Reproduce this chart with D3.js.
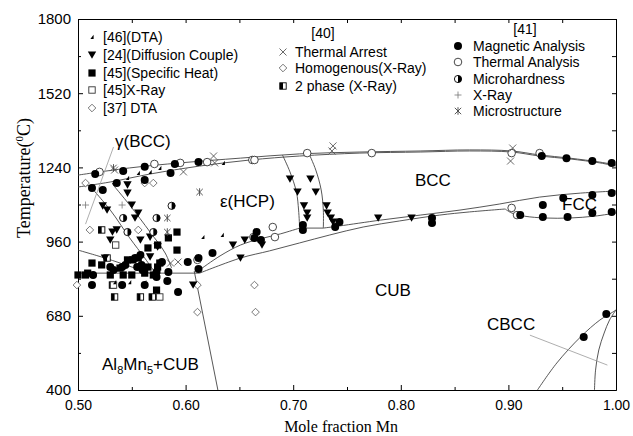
<!DOCTYPE html>
<html lang='en'>
<head>
<meta charset='UTF-8'>
<title>Al-Mn phase diagram</title>
<script src='https://d3js.org/d3.v7.min.js'></script>
<style>
  body { margin: 0; background: #fff; }
  svg text { font-family: 'Liberation Sans', Arial, sans-serif; fill: #000; }
  .serif { font-family: 'Liberation Serif', 'Times New Roman', serif !important; }
</style>
</head>
<body>
<svg id='chart' width='633' height='436'></svg>
<script>
// axis ticks
const xMajor = [0.50, 0.60, 0.70, 0.80, 0.90, 1.00]
const xMinor = [0.55, 0.65, 0.75, 0.85, 0.95]
const yMajor = [400, 680, 960, 1240, 1520, 1800]
const yMinor = [540, 820, 1100, 1380, 1660]

// measured points [mole fraction Mn, T in C]
const dta46 = [[0.533,1185],[0.546,1200],[0.556,1219],[0.567,1223],[0.576,1238],[0.592,1249],[0.635,1257],
  [0.616,977],[0.634,985],[0.534,807],[0.548,807],[0.562,807]]
const diffusion24 = [[0.546,1174],[0.546,1143],[0.523,1095],[0.527,1079],[0.550,1098],[0.556,1068],[0.553,1049],
  [0.532,996],[0.530,966],[0.536,1004],[0.558,966],[0.567,977],[0.574,940],[0.567,902],[0.525,898],
  [0.644,947],[0.655,966],[0.607,796],[0.671,947],[0.651,898],
  [0.697,1196],[0.704,1147],[0.710,1095],[0.713,1068],[0.713,1049],
  [0.716,1196],[0.721,1147],[0.731,1095],[0.732,1068],[0.735,1049],[0.737,1034],
  [0.779,1049],[0.810,1049]]
const specHeat45 = [[0.592,996],[0.584,974],[0.565,936],[0.592,928],[0.556,898],[0.546,891],[0.513,879],[0.522,872],
  [0.539,860],[0.565,864],[0.574,864],[0.576,879],[0.500,834],[0.507,834],[0.509,841],[0.530,834],[0.542,834],
  [0.550,834],[0.562,841],[0.570,834],[0.573,777],[0.574,947],[0.551,891]]
const xray45 = [[0.535,947],[0.533,796],[0.576,751]]
const dta37 = [[0.507,1181],[0.499,796],[0.511,1004]]
const arrest40 = [[0.534,1230],[0.598,1223],[0.626,1283],[0.627,1257],[0.737,1321],[0.736,1302],
  [0.904,1313],[0.902,1264],[0.586,879],[0.593,883]]
const homog40 = [[0.562,1181],[0.570,1181],[0.556,1004],[0.664,796],[0.665,694],[0.611,694],[0.611,796]]
const twoPhase40 = [[0.522,1004],[0.527,898],[0.532,796],[0.534,751],[0.558,751],[0.569,751]]
const magnetic41 = [[0.516,1215],[0.542,1226],[0.562,1242],[0.590,1253],[0.612,1260],[0.513,1162],[0.523,1155],
  [0.536,1181],[0.562,1192],[0.586,1219],[0.666,996],[0.625,917],[0.612,898],[0.602,883],[0.558,909],[0.553,898],
  [0.578,883],[0.560,853],[0.555,864],[0.544,872],[0.533,853],[0.530,864],[0.541,864],[0.559,872],[0.514,834],
  [0.573,845],[0.584,845],[0.573,826],[0.583,811],[0.513,796],[0.541,796],[0.562,796],[0.593,770],[0.612,857],
  [0.709,1023],[0.709,1004],[0.739,1015],[0.743,1034],[0.664,974],[0.670,966],[0.829,1049],[0.829,1030],
  [0.931,1283],[0.954,1275],[0.978,1264],[0.996,1257],
  [0.911,1060],[0.932,1053],[0.955,1053],[0.978,1068],[0.996,1072],
  [0.932,1098],[0.951,1125],[0.978,1136],[0.996,1143],[0.970,600],[0.991,687]]
const thermal41 = [[0.520,1223],[0.571,1253],[0.595,1257],[0.620,1260],[0.662,1268],[0.664,1268],[0.713,1294],
  [0.773,1294],[0.903,1294],[0.929,1294],[0.611,891],[0.663,977],[0.681,1015],[0.683,977],[0.903,1087],[0.908,1060]]
const hardness41 = [[0.587,1095],[0.542,1049],[0.573,1049],[0.546,996],[0.570,996]]
const xray41 = [[0.507,1098],[0.541,1098]]
const micro41 = [[0.533,1238],[0.613,1147],[0.583,1049],[0.583,996]]

// phase boundaries
const liquidus = [[0.500,1211],[0.548,1238],[0.595,1257],[0.651,1275],[0.706,1291],[0.762,1298],[0.818,1302],
  [0.864,1306],[0.903,1302],[0.929,1287],[0.957,1275],[0.985,1260],[1.000,1249]]
const solidus = [[0.500,1166],[0.530,1185],[0.567,1215],[0.613,1245],[0.660,1268],[0.706,1283],[0.762,1294],
  [0.818,1298],[0.864,1302],[0.903,1298],[0.929,1283],[0.957,1272],[0.985,1257],[1.000,1245]]
const gammaEps1 = [[0.511,1170],[0.530,1079],[0.548,974],[0.562,898],[0.572,841]]
const gammaEps2 = [[0.532,1177],[0.548,1098],[0.567,996],[0.581,917],[0.587,860]]
const leftLine = [[0.500,928],[0.525,898],[0.553,860],[0.567,841]]
const eutectoid = [[0.500,841],[0.613,841]]
const epsLower = [[0.613,853],[0.632,906],[0.651,947],[0.669,970],[0.688,989],[0.706,1011]]
const epsBccA = [[0.690,1287],[0.697,1223],[0.703,1147],[0.705,1079],[0.706,1011]]
const epsBccB = [[0.714,1298],[0.721,1230],[0.726,1155],[0.728,1079],[0.728,1011]]
const epsBccTie = [[0.706,1011],[0.728,1011]]
const bccLower = [[0.728,1011],[0.743,1019],[0.781,1041],[0.818,1060],[0.855,1079],[0.892,1102],[0.929,1128],
  [0.967,1143],[1.000,1151]]
const cubUpper = [[0.613,841],[0.651,898],[0.678,925],[0.706,955],[0.734,985],[0.765,1015],[0.799,1038],
  [0.836,1060],[0.864,1072],[0.897,1083]]
const fccLower = [[0.897,1083],[0.903,1068],[0.915,1056],[0.934,1049],[0.957,1049],[0.980,1056],[1.000,1068]]
const al8mn5Line = [[0.608,849],[0.630,400]]
const cbcc1 = [[0.927,400],[0.945,502],[0.967,600],[0.985,664],[0.997,694],[1.000,702]]
const cbcc2 = [[0.980,400],[0.981,475],[0.984,551],[0.989,615],[0.994,664],[1.000,702]]
const cbccPointer = [[0.920,607],[0.992,494]]
const gammaPointer = [[0.533,1317],[0.507,1026]]

const svg = d3.select('#chart')
const x = d3.scaleLinear().domain([0.5, 1.0]).range([78, 616])
const y = d3.scaleLinear().domain([400, 1800]).range([390, 19])

// axes, ticks point inward
function styleAxis(g) {
  g.selectAll('path, line').attr('stroke', '#000').attr('stroke-width', 1)
  g.selectAll('text').attr('fill', '#000')
}
svg.append('g').attr('transform', 'translate(0,390)')
  .call(d3.axisBottom(x).tickValues(xMajor).tickSize(-5).tickSizeOuter(0).tickPadding(10).tickFormat(d3.format('.2f')))
  .call(styleAxis).selectAll('text').style('font-size', '14px')
svg.append('g').attr('transform', 'translate(0,390)')
  .call(d3.axisBottom(x).tickValues(xMinor).tickSize(-3).tickSizeOuter(0).tickFormat(''))
  .call(styleAxis)
svg.append('g').attr('transform', 'translate(78,0)')
  .call(d3.axisLeft(y).tickValues(yMajor).tickSize(-5).tickSizeOuter(0).tickPadding(7).tickFormat(d3.format('d')))
  .call(styleAxis).selectAll('text').style('font-size', '15px')
svg.append('g').attr('transform', 'translate(78,0)')
  .call(d3.axisLeft(y).tickValues(yMinor).tickSize(-3).tickSizeOuter(0).tickFormat(''))
  .call(styleAxis)
svg.append('g').attr('transform', 'translate(0,19)')
  .call(d3.axisTop(x).tickValues(xMajor.concat(xMinor)).tickSize(-4).tickSizeOuter(0).tickFormat(''))
  .call(styleAxis)
svg.append('g').attr('transform', 'translate(616,0)')
  .call(d3.axisRight(y).tickValues(yMajor.concat(yMinor)).tickSize(-4).tickSizeOuter(0).tickFormat(''))
  .call(styleAxis)

// axis titles
svg.append('text').attr('class', 'serif').attr('x', 341).attr('y', 432)
  .attr('text-anchor', 'middle').style('font-size', '16px').text('Mole fraction Mn')
const yt = svg.append('text').attr('class', 'serif').attr('transform', 'translate(30,178) rotate(-90)')
  .attr('text-anchor', 'middle').style('font-size', '18px')
yt.append('tspan').text('Temperature(')
yt.append('tspan').attr('dy', -7).style('font-size', '11px').text('0')
yt.append('tspan').attr('dy', 7).text('C)')

// phase boundaries
const line = d3.line().x(d => x(d[0])).y(d => y(d[1])).curve(d3.curveCatmullRom)
const bounds = [liquidus, solidus, gammaEps1, gammaEps2, leftLine, eutectoid, epsLower, epsBccA, epsBccB,
  epsBccTie, bccLower, cubUpper, fccLower, al8mn5Line, cbcc1, cbcc2]
svg.append('g').selectAll('path').data(bounds).enter().append('path')
  .attr('d', line).attr('fill', 'none').attr('stroke', '#444').attr('stroke-width', 0.9)
svg.append('g').selectAll('path').data([cbccPointer, gammaPointer]).enter().append('path')
  .attr('d', line).attr('fill', 'none').attr('stroke', '#999').attr('stroke-width', 0.8)

// marker shapes
function drawMark(g, kind) {
  if (kind === 'circleFill') g.append('circle').attr('r', 4).attr('fill', '#000')
  if (kind === 'circleOpen') g.append('circle').attr('r', 3.8).attr('fill', '#fff').attr('stroke', '#333').attr('stroke-width', 0.9)
  if (kind === 'circleHalf') {
    g.append('circle').attr('r', 3.6).attr('fill', '#fff').attr('stroke', '#000').attr('stroke-width', 0.9)
    g.append('path').attr('d', 'M0,-3.6A3.6,3.6 0 0 1 0,3.6Z').attr('fill', '#000')
  }
  if (kind === 'triDown') g.append('path').attr('d', 'M-4.2,-3.6L4.2,-3.6L0,3.8Z').attr('fill', '#000')
  if (kind === 'triTiny') g.append('path').attr('d', 'M1.6,-2.2L1.6,2L-1.6,2Z').attr('fill', '#000')
  if (kind === 'sqFill') g.append('rect').attr('x', -3.6).attr('y', -3.6).attr('width', 7.2).attr('height', 7.2).attr('fill', '#000')
  if (kind === 'sqOpen') g.append('rect').attr('x', -3.2).attr('y', -3.2).attr('width', 6.4).attr('height', 6.4)
    .attr('fill', '#fff').attr('stroke', '#333').attr('stroke-width', 0.9)
  if (kind === 'sqHalf') {
    g.append('rect').attr('x', -3.2).attr('y', -3.2).attr('width', 6.4).attr('height', 6.4)
      .attr('fill', '#fff').attr('stroke', '#000').attr('stroke-width', 0.9)
    g.append('rect').attr('x', -3.2).attr('y', -3.2).attr('width', 3.2).attr('height', 6.4).attr('fill', '#000')
  }
  if (kind === 'diamond') g.append('path').attr('d', 'M0,-3.8L3.8,0L0,3.8L-3.8,0Z')
    .attr('fill', '#fff').attr('stroke', '#555').attr('stroke-width', 0.8)
  if (kind === 'cross') g.append('path').attr('d', 'M-3.5,-3.5L3.5,3.5M-3.5,3.5L3.5,-3.5')
    .attr('stroke', '#444').attr('stroke-width', 0.8)
  if (kind === 'plus') g.append('path').attr('d', 'M-3.5,0L3.5,0M0,-3.5L0,3.5')
    .attr('stroke', '#777').attr('stroke-width', 0.8)
  if (kind === 'star') g.append('path').attr('d', 'M-3.2,-3.2L3.2,3.2M-3.2,3.2L3.2,-3.2M0,-3.8L0,3.8')
    .attr('stroke', '#444').attr('stroke-width', 0.9)
}

const series = [
  { data: homog40, kind: 'diamond', label: 'Homogenous(X-Ray)' },
  { data: dta37, kind: 'diamond', label: '[37] DTA' },
  { data: twoPhase40, kind: 'sqHalf', label: '2 phase (X-Ray)' },
  { data: xray45, kind: 'sqOpen', label: '[45]X-Ray' },
  { data: specHeat45, kind: 'sqFill', label: '[45](Specific Heat)' },
  { data: thermal41, kind: 'circleOpen', label: 'Thermal Analysis' },
  { data: magnetic41, kind: 'circleFill', label: 'Magnetic Analysis' },
  { data: diffusion24, kind: 'triDown', label: '[24](Diffusion Couple)' },
  { data: dta46, kind: 'triTiny', label: '[46](DTA)' },
  { data: hardness41, kind: 'circleHalf', label: 'Microhardness' },
  { data: arrest40, kind: 'cross', label: 'Thermal Arrest' },
  { data: xray41, kind: 'plus', label: 'X-Ray' },
  { data: micro41, kind: 'star', label: 'Microstructure' }
]
series.forEach(s => {
  svg.append('g').selectAll('g').data(s.data).enter().append('g')
    .attr('transform', d => `translate(${x(d[0])},${y(d[1])})`)
    .each(function () { drawMark(d3.select(this), s.kind) })
})

// legends
const byLabel = l => series.find(s => s.label === l)
const legendCols = [
  { head: null, symX: 92, txtX: 103, rows: [['[46](DTA)', 42], ['[24](Diffusion Couple)', 60], ['[45](Specific Heat)', 78], ['[45]X-Ray', 95], ['[37] DTA', 113]] },
  { head: ['[40]', 323, 38], symX: 283, txtX: 295, rows: [['Thermal Arrest', 57], ['Homogenous(X-Ray)', 73], ['2 phase (X-Ray)', 91]] },
  { head: ['[41]', 525, 34], symX: 458, txtX: 473, rows: [['Magnetic Analysis', 51], ['Thermal Analysis', 67], ['Microhardness', 84], ['X-Ray', 100], ['Microstructure', 116]] }
]
const leg = svg.append('g').style('font-size', '14px')
legendCols.forEach(c => {
  if (c.head) leg.append('text').attr('x', c.head[1]).attr('y', c.head[2]).attr('text-anchor', 'middle').text(c.head[0])
  c.rows.forEach(r => {
    drawMark(leg.append('g').attr('transform', `translate(${c.symX},${r[1] - 5})`), byLabel(r[0]).kind)
    leg.append('text').attr('x', c.txtX).attr('y', r[1]).text(r[0])
  })
})

// phase region names
const regions = svg.append('g').style('font-size', '17px')
regions.append('text').attr('x', 115).attr('y', 147).text('γ(BCC)')
regions.append('text').attr('x', 220).attr('y', 207).text('ε(HCP)')
regions.append('text').attr('x', 415).attr('y', 186).text('BCC')
regions.append('text').attr('x', 562).attr('y', 210).text('FCC')
regions.append('text').attr('x', 375).attr('y', 296).text('CUB')
regions.append('text').attr('x', 487).attr('y', 330).text('CBCC')
const al = regions.append('text').attr('x', 102).attr('y', 370)
al.append('tspan').text('Al')
al.append('tspan').attr('dy', 4).style('font-size', '11px').text('8')
al.append('tspan').attr('dy', -4).text('Mn')
al.append('tspan').attr('dy', 4).style('font-size', '11px').text('5')
al.append('tspan').attr('dy', -4).text('+CUB')
</script>
</body>
</html>
